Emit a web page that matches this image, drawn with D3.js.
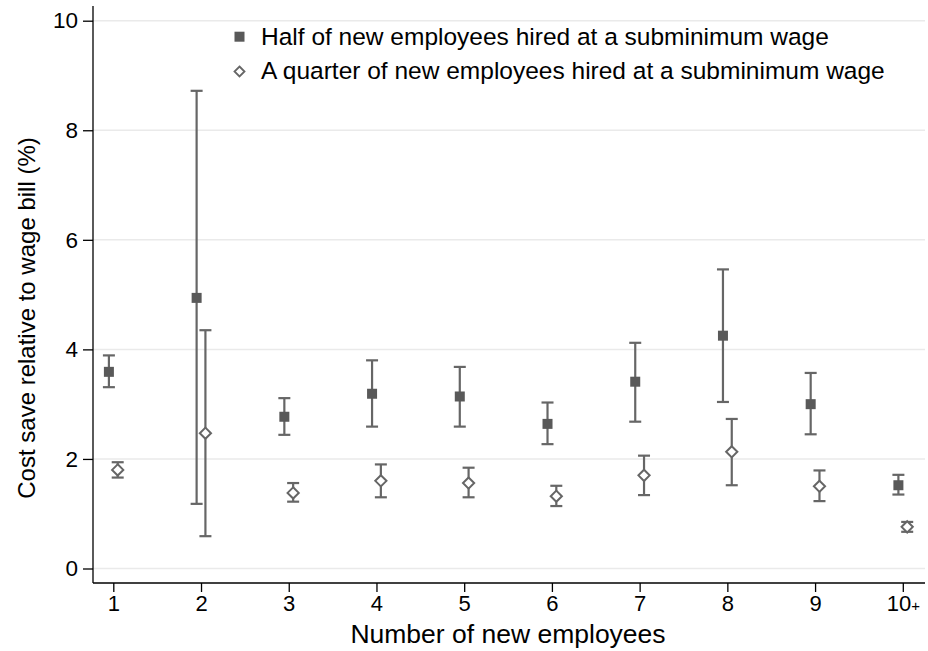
<!DOCTYPE html>
<html>
<head>
<meta charset="utf-8">
<script src="https://cdn.jsdelivr.net/npm/d3@7"></script>
<style>
  body { margin: 0; background: #fff; }
  text { font-family: "Liberation Sans", Arial, sans-serif; fill: #000; }
</style>
</head>
<body>
<div id="view"></div>
<script>
// data
var categories = ["1", "2", "3", "4", "5", "6", "7", "8", "9", "10+"];

// half of new employees at subminimum wage: estimate, lower, upper
var halfMean  = [3.59, 4.94, 2.77, 3.19, 3.14, 2.64, 3.41, 4.25, 3.00, 1.52];
var halfLow   = [3.31, 1.18, 2.44, 2.59, 2.59, 2.27, 2.68, 3.04, 2.45, 1.35];
var halfHigh  = [3.89, 8.72, 3.11, 3.80, 3.68, 3.03, 4.12, 5.46, 3.57, 1.71];

// a quarter of new employees
var quarterMean = [1.80, 2.47, 1.38, 1.60, 1.56, 1.32, 1.70, 2.13, 1.50, 0.76];
var quarterLow  = [1.66, 0.59, 1.22, 1.30, 1.30, 1.14, 1.34, 1.52, 1.23, 0.67];
var quarterHigh = [1.94, 4.35, 1.56, 1.90, 1.84, 1.51, 2.06, 2.73, 1.79, 0.85];

var yTicks = [0, 2, 4, 6, 8, 10];

var legendLabels = [
  "Half of new employees hired at a subminimum wage",
  "A quarter of new employees hired at a subminimum wage"
];

var chart = {
  width: 928,
  height: 651,
  left: 93,
  right: 925,
  axisY: 583,
  svg: null,

  init: function() {
    this.svg = d3.select("#view").append("svg")
      .attr("width", this.width)
      .attr("height", this.height);

    this.x = d3.scalePoint().domain(categories).range([113.3, 902.8]);
    this.y = d3.scaleLinear().domain([0, 10]).range([568.5, 20.7]);

    this.drawGrid();
    this.drawAxes();
    this.drawSeries();
    this.drawLegend();
  },

  drawGrid: function() {
    var y = this.y;
    this.svg.append("g").selectAll("line")
      .data(yTicks)
      .join("line")
      .attr("x1", this.left).attr("x2", this.right)
      .attr("y1", function(d) { return y(d); })
      .attr("y2", function(d) { return y(d); })
      .attr("stroke", "#eaeaea")
      .attr("stroke-width", 1.5);
  },

  drawAxes: function() {
    var svg = this.svg;

    // y axis
    var yAxis = svg.append("g")
      .attr("transform", "translate(" + this.left + ",0)")
      .call(d3.axisLeft(this.y).tickValues(yTicks).tickSize(10).tickPadding(5));
    yAxis.select(".domain").remove();
    yAxis.selectAll("line").attr("stroke", "#000").attr("stroke-width", 1.3);
    yAxis.selectAll("text").style("font-size", "22.5px")
      .style("font-family", "Liberation Sans, Arial, sans-serif");

    svg.append("line")
      .attr("x1", this.left).attr("x2", this.left)
      .attr("y1", 6).attr("y2", this.axisY)
      .attr("stroke", "#000").attr("stroke-width", 1.3);

    // x axis
    var xAxis = svg.append("g")
      .attr("transform", "translate(0," + this.axisY + ")")
      .call(d3.axisBottom(this.x).tickSize(9).tickPadding(3));
    xAxis.select(".domain").remove();
    xAxis.selectAll("line").attr("stroke", "#000").attr("stroke-width", 1.3);
    xAxis.selectAll("text").style("font-size", "22px")
      .style("font-family", "Liberation Sans, Arial, sans-serif");
    // "10+" has a small plus
    xAxis.selectAll("text").filter(function(d) { return d === "10+"; })
      .text("10")
      .append("tspan").style("font-size", "15px").text("+");

    svg.append("line")
      .attr("x1", this.left).attr("x2", this.right)
      .attr("y1", this.axisY).attr("y2", this.axisY)
      .attr("stroke", "#000").attr("stroke-width", 1.3);

    // titles
    svg.append("text")
      .attr("x", 508).attr("y", 643)
      .attr("text-anchor", "middle")
      .style("font-size", "26.5px")
      .text("Number of new employees");

    svg.append("text")
      .attr("transform", "translate(35,318) rotate(-90)")
      .attr("text-anchor", "middle")
      .style("font-size", "24px")
      .text("Cost save relative to wage bill (%)");
  },

  drawErrorBars: function(g, mean, low, high, dx) {
    var x = this.x, y = this.y, cap = 6;
    var rows = categories.map(function(c, i) {
      return { c: c, m: mean[i], lo: low[i], hi: high[i] };
    });
    var bars = g.append("g").selectAll("g")
      .data(rows)
      .join("g")
      .attr("stroke", "#666")
      .attr("stroke-width", 2.2);
    bars.append("line")
      .attr("x1", function(d) { return x(d.c) + dx; })
      .attr("x2", function(d) { return x(d.c) + dx; })
      .attr("y1", function(d) { return y(d.lo); })
      .attr("y2", function(d) { return y(d.hi); });
    bars.append("line")
      .attr("x1", function(d) { return x(d.c) + dx - cap; })
      .attr("x2", function(d) { return x(d.c) + dx + cap; })
      .attr("y1", function(d) { return y(d.hi); })
      .attr("y2", function(d) { return y(d.hi); });
    bars.append("line")
      .attr("x1", function(d) { return x(d.c) + dx - cap; })
      .attr("x2", function(d) { return x(d.c) + dx + cap; })
      .attr("y1", function(d) { return y(d.lo); })
      .attr("y2", function(d) { return y(d.lo); });
    return rows;
  },

  drawSeries: function() {
    var x = this.x, y = this.y, svg = this.svg;
    var g = svg.append("g");

    var halfRows = this.drawErrorBars(g, halfMean, halfLow, halfHigh, -4.4);
    var quarterRows = this.drawErrorBars(g, quarterMean, quarterLow, quarterHigh, 4.4);

    g.append("g").selectAll("rect")
      .data(halfRows)
      .join("rect")
      .attr("x", function(d) { return x(d.c) - 4.4 - 5; })
      .attr("y", function(d) { return y(d.m) - 5; })
      .attr("width", 10).attr("height", 10)
      .attr("fill", "#595959");

    var diamond = "M0,-5.6L5.6,0L0,5.6L-5.6,0Z";
    g.append("g").selectAll("path")
      .data(quarterRows)
      .join("path")
      .attr("d", diamond)
      .attr("transform", function(d) {
        return "translate(" + (x(d.c) + 4.4) + "," + y(d.m) + ")";
      })
      .attr("fill", "#fff")
      .attr("stroke", "#666")
      .attr("stroke-width", 2);
  },

  drawLegend: function() {
    var svg = this.svg;
    var lg = svg.append("g");
    lg.append("rect")
      .attr("x", 234.5).attr("y", 31.7)
      .attr("width", 10).attr("height", 10)
      .attr("fill", "#595959");
    lg.append("path")
      .attr("d", "M0,-5L5,0L0,5L-5,0Z")
      .attr("transform", "translate(239.5,71.5)")
      .attr("fill", "#fff")
      .attr("stroke", "#666")
      .attr("stroke-width", 1.8);
    lg.selectAll("text")
      .data(legendLabels)
      .join("text")
      .attr("x", 261)
      .attr("y", function(d, i) { return 45 + i * 33.5; })
      .style("font-size", "24.5px")
      .text(function(d) { return d; });
  }
};

window.onload = function() {
  chart.init();
};
</script>
</body>
</html>
